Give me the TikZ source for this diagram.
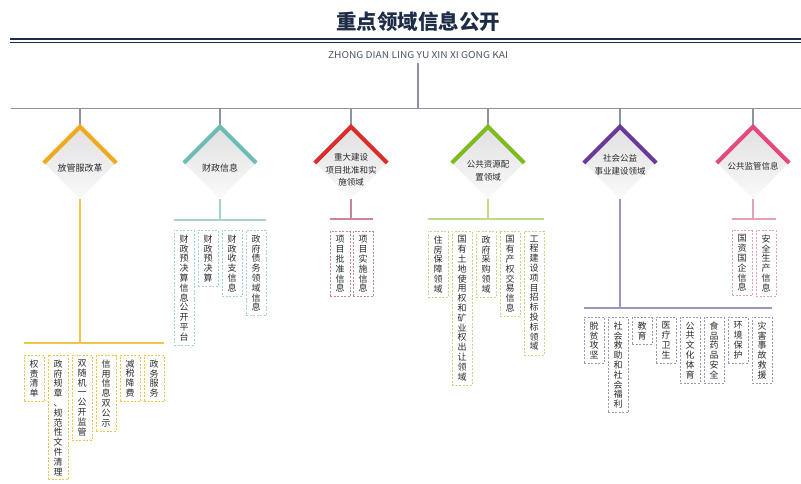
\documentclass[tikz,border=0pt]{standalone}
\usepackage{fontspec}
\usepackage{graphicx}
\setmainfont{Noto Sans CJK SC}
\usetikzlibrary{shapes.geometric}
\definecolor{navy}{HTML}{1E2D47}
\definecolor{subgray}{HTML}{4B5565}
\definecolor{treegray}{HTML}{8C939E}
\definecolor{txt}{HTML}{2A2A2A}
\definecolor{cA}{HTML}{F2A81D}\definecolor{lA}{HTML}{F0C54A}
\definecolor{cB}{HTML}{6DBDB2}\definecolor{lB}{HTML}{A3D3CC}
\definecolor{cC}{HTML}{D92E2E}\definecolor{lC}{HTML}{C98592}
\definecolor{cD}{HTML}{7DBB1F}\definecolor{lD}{HTML}{BFDA86}
\definecolor{cE}{HTML}{673A9C}\definecolor{lE}{HTML}{A293BD}
\definecolor{cF}{HTML}{E5487E}\definecolor{lF}{HTML}{E6A0BA}
\def\vgob#1{}
\def\vtext#1{\vloop#1\relax}
\def\vloop#1#2{#1\ifx\relax#2\expandafter\vgob\else\expandafter\vnext\fi#2}
\def\vnext{\\\vloop}
\tikzset{
  treeline/.style={treegray, line width=1.1pt},
  dia/.style={diamond, minimum width=72pt, minimum height=72pt, inner sep=0pt, top color=black!12, bottom color=black!2, draw=none},
  chev/.style={line width=4pt, line join=miter},
  dtext/.style={align=center, text=txt, font=\fontsize{9}{12.5}\selectfont, inner sep=0pt},
  leaf/.style={draw=#1, dash pattern=on 2pt off 1.5pt, line width=0.7pt, fill=white, minimum width=20pt, inner xsep=0pt, inner ysep=4.3pt, anchor=north, align=center, text=txt, font=\fontsize{9}{9.8}\selectfont},
  gline/.style={#1, line width=1.1pt}
}
\begin{document}
\begin{tikzpicture}[x=1pt,y=-1pt]
\useasboundingbox (0,0) rectangle (801,484);
% title
\node[text=navy, font=\fontsize{20.5}{24}\bfseries, inner sep=0pt] (title) at (418,22) {重点领域信息公开};
\draw[navy, line width=2.6pt] (10,39) -- (801,39);
\draw[navy, line width=0.9pt] (10,42.2) -- (801,42.2);
\node[text=subgray, inner sep=0pt] (sub) at (418,55) {\resizebox{180pt}{7pt}{ZHONG DIAN LING YU XIN XI GONG KAI}};
% main tree
\coordinate (top) at (418,63);
\coordinate (hub) at (418,108.5);
\coordinate (hl) at (11,108.5);
\coordinate (hr) at (801,108.5);
\draw[treeline] (top) -- (hub);
\draw[treeline] (hl) -- (hr);
% diamonds
\foreach \i/\x/\c in {1/80/cA,2/220/cB,3/351/cC,4/488/cD,5/620/cE,6/753/cF}{
  \node[dia] (dia\i) at (\x,163) {};
  \coordinate (h\i) at (\x,108.5);
  \draw[treeline] (h\i) -- (dia\i.north);
  \draw[chev, \c] (dia\i.west) -- (dia\i.north) -- (dia\i.east);
}
\node[dtext] (t1) at (80,168) {放管服改革};
\node[dtext] (t2) at (220,168) {财政信息};
\node[dtext, font=\fontsize{8.5}{12.5}\selectfont] (t3) at (351,170) {重大建设\\项目批准和实\\施领域};
\node[dtext, font=\fontsize{8.5}{12.5}\selectfont] (t4) at (488,171) {公共资源配\\置领域};
\node[dtext, font=\fontsize{8.5}{13}\selectfont] (t5) at (620,165) {社会公益\\事业建设领域};
\node[dtext, font=\fontsize{8.5}{12.5}\selectfont] (t6) at (753,166) {公共监管信息};
% group A
\node[leaf=lA] (a1) at (34,355) {\vtext{权责清单}};
\node[leaf=lA] (a2) at (58,355) {\vtext{政府规章、规范性文件清理}};
\node[leaf=lA] (a3) at (82,355) {\vtext{双随机一公开监管}};
\node[leaf=lA] (a4) at (106,355) {\vtext{信用信息双公示}};
\node[leaf=lA] (a5) at (130,355) {\vtext{减税降费}};
\node[leaf=lA] (a6) at (154,355) {\vtext{政务服务}};
\coordinate (va) at (80,343);
\draw[gline=lA] (dia1.south) -- (va);
\draw[gline=lA] (a1.north west |- va) -- (a6.north east |- va);
% group B
\node[leaf=lB] (b1) at (184,230) {\vtext{财政预决算信息公开平台}};
\node[leaf=lB] (b2) at (208,230) {\vtext{财政预决算}};
\node[leaf=lB] (b3) at (232,230) {\vtext{财政收支信息}};
\node[leaf=lB] (b4) at (256,230) {\vtext{政府债务领域信息}};
\coordinate (vb) at (220,220);
\draw[gline=lB] (dia2.south) -- (vb);
\draw[gline=lB] (b1.north west |- vb) -- (b4.north east |- vb);
% group C
\node[leaf=lC] (c1) at (340,231) {\vtext{项目批准信息}};
\node[leaf=lC] (c2) at (363,231) {\vtext{项目实施信息}};
\coordinate (vc) at (351,219);
\draw[gline=lC] (dia3.south) -- (vc);
\draw[gline=lC] (c1.north west |- vc) -- (c2.north east |- vc);
% group D
\node[leaf=lD] (e1) at (438,231) {\vtext{住房保障领域}};
\node[leaf=lD] (e2) at (462,231) {\vtext{国有土地使用权和矿业权出让领域}};
\node[leaf=lD] (e3) at (486,231) {\vtext{政府采购领域}};
\node[leaf=lD] (e4) at (510,231) {\vtext{国有产权交易信息}};
\node[leaf=lD] (e5) at (534,231) {\vtext{工程建设项目招标投标领域}};
\coordinate (vd) at (488,219);
\draw[gline=lD] (dia4.south) -- (vd);
\draw[gline=lD] (e1.north west |- vd) -- (e5.north east |- vd);
% group E
\node[leaf=lE] (f1) at (594,317) {\vtext{脱贫攻坚}};
\node[leaf=lE] (f2) at (618,317) {\vtext{社会救助和社会福利}};
\node[leaf=lE] (f3) at (642,317) {\vtext{教育}};
\node[leaf=lE] (f4) at (666,317) {\vtext{医疗卫生}};
\node[leaf=lE] (f5) at (690,317) {\vtext{公共文化体育}};
\node[leaf=lE] (f6) at (714,317) {\vtext{食品药品安全}};
\node[leaf=lE] (f7) at (738,317) {\vtext{环境保护}};
\node[leaf=lE] (f8) at (762,317) {\vtext{灾害事故救援}};
\coordinate (ve) at (620,308);
\draw[gline=lE] (dia5.south) -- (ve);
\draw[gline=lE] (f1.north west |- ve) -- (f8.north east |- ve);
% group F
\node[leaf=lF] (g1) at (742,230) {\vtext{国资国企信息}};
\node[leaf=lF] (g2) at (766,230) {\vtext{安全生产信息}};
\coordinate (vf) at (753,219);
\draw[gline=lF] (dia6.south) -- (vf);
\draw[gline=lF] (g1.north west |- vf) -- (g2.north east |- vf);
\end{tikzpicture}
\end{document}
